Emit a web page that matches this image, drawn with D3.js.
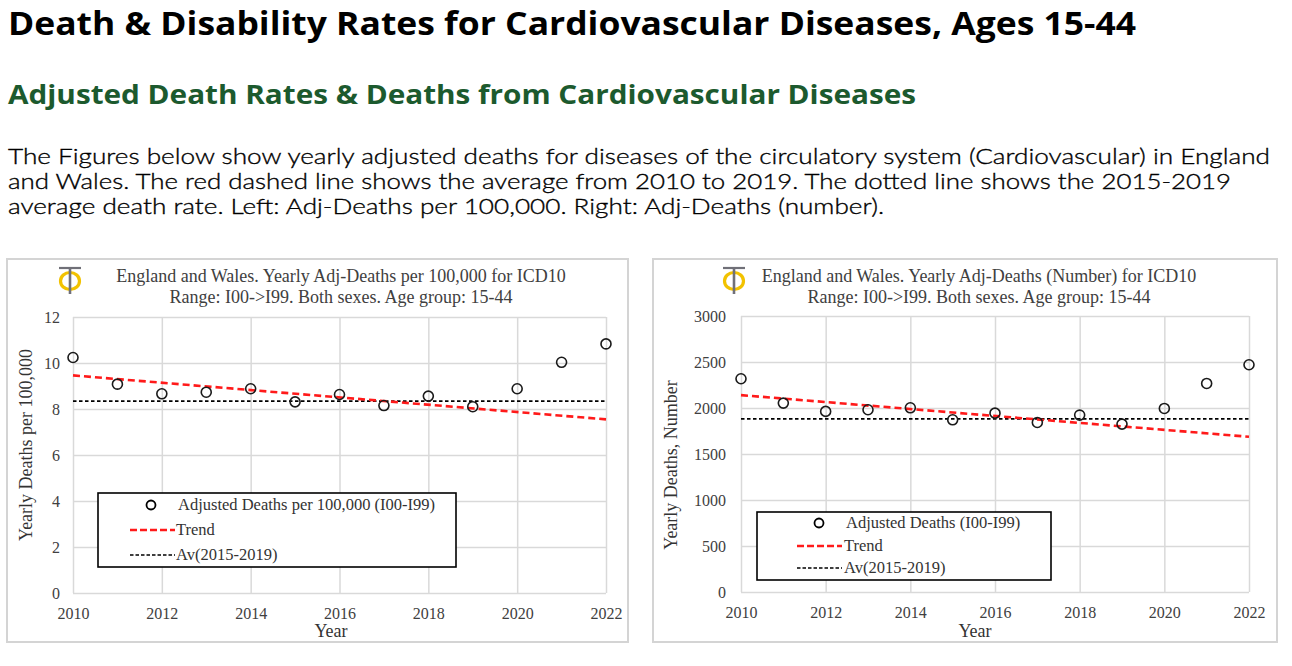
<!DOCTYPE html>
<html>
<head>
<meta charset="utf-8">
<script src="https://cdn.jsdelivr.net/npm/d3@7"></script>
<style>
  body { margin: 0; background: #fff; }
  svg { display: block; }
</style>
</head>
<body>
<div id="chart"></div>
<script>
// data
var years = [2010, 2011, 2012, 2013, 2014, 2015, 2016, 2017, 2018, 2019, 2020, 2021, 2022];
var ratePer100k = [10.24, 9.08, 8.66, 8.73, 8.88, 8.31, 8.63, 8.15, 8.56, 8.10, 8.88, 10.03, 10.83];
var deathsNumber = [2318, 2053, 1963, 1981, 2002, 1872, 1944, 1843, 1923, 1825, 1995, 2267, 2470];
var trendYears = [2010, 2022];
var trendRate = [9.46, 7.55];
var trendNumber = [2140, 1687];
var avRate = 8.34;
var avNumber = 1882;
var xTicks = [2010, 2012, 2014, 2016, 2018, 2020, 2022];
var rateTicks = [0, 2, 4, 6, 8, 10, 12];
var numberTicks = [0, 500, 1000, 1500, 2000, 2500, 3000];

var width = 1292, height = 666;
var serif = "'Liberation Serif', 'DejaVu Serif', serif";

var svg = d3.select('#chart')
  .append('svg')
  .attr('width', width)
  .attr('height', height);

// page header
svg.append('text')
  .attr('x', 8).attr('y', 35)
  .attr('textLength', 1128).attr('lengthAdjust', 'spacingAndGlyphs')
  .style('font-family', "'Open Sans', sans-serif")
  .style('font-weight', 700)
  .style('font-size', '32px')
  .style('fill', '#000')
  .text('Death & Disability Rates for Cardiovascular Diseases, Ages 15-44');

svg.append('text')
  .attr('x', 8).attr('y', 104)
  .attr('textLength', 908).attr('lengthAdjust', 'spacingAndGlyphs')
  .style('font-family', "'Open Sans', sans-serif")
  .style('font-weight', 700)
  .style('font-size', '27px')
  .style('fill', '#1c5a2e')
  .text('Adjusted Death Rates & Deaths from Cardiovascular Diseases');

var para = [
  {t: 'The Figures below show yearly adjusted deaths for diseases of the circulatory system (Cardiovascular) in England', w: 1262},
  {t: 'and Wales. The red dashed line shows the average from 2010 to 2019. The dotted line shows the 2015-2019', w: 1223},
  {t: 'average death rate. Left: Adj-Deaths per 100,000. Right: Adj-Deaths (number).', w: 876}
];
svg.selectAll('.para')
  .data(para)
  .enter()
  .append('text')
  .attr('class', 'para')
  .attr('x', 8)
  .attr('y', function(d, i){ return 164 + i * 25; })
  .attr('textLength', function(d){ return d.w; })
  .attr('lengthAdjust', 'spacingAndGlyphs')
  .style('font-family', "'Lato', sans-serif")
  .style('font-weight', 300)
  .style('font-size', '22px')
  .style('fill', '#000')
  .style('stroke', '#000')
  .style('stroke-width', 0.35)
  .text(function(d){ return d.t; });

function draw_chart(c){
  var g = svg.append('g');

  g.append('rect')
    .attr('x', c.frame[0]).attr('y', c.frame[1])
    .attr('width', c.frame[2]).attr('height', c.frame[3])
    .attr('fill', '#fff')
    .attr('stroke', '#d4d4d4')
    .attr('stroke-width', 2);

  var x = d3.scaleLinear().domain([2010, 2022]).range([c.x0, c.x1]);
  var y = d3.scaleLinear().domain([0, c.yTicks[c.yTicks.length - 1]]).range([c.y0, c.y1]);

  // gridlines + tick labels
  var xAxis = g.append('g')
    .attr('transform', 'translate(0,' + c.y0 + ')')
    .call(d3.axisBottom(x).tickValues(xTicks).tickFormat(d3.format('d'))
      .tickSize(-(c.y0 - c.y1)).tickPadding(15));
  var yAxis = g.append('g')
    .attr('transform', 'translate(' + c.x0 + ',0)')
    .call(d3.axisLeft(y).tickValues(c.yTicks).tickFormat(d3.format('d'))
      .tickSize(-(c.x1 - c.x0)).tickPadding(c.yPad));
  [xAxis, yAxis].forEach(function(a){
    a.select('.domain').remove();
    a.selectAll('line').attr('stroke', '#d9d9d9').attr('stroke-width', 1.5);
    a.selectAll('text')
      .style('font-family', serif)
      .style('font-size', '16px')
      .style('fill', '#404040');
  });

  // average line (dotted)
  g.append('line')
    .attr('x1', x(2010)).attr('x2', x(2022))
    .attr('y1', y(c.av)).attr('y2', y(c.av))
    .attr('stroke', '#000')
    .attr('stroke-width', 1.8)
    .attr('stroke-dasharray', '3.5,2.5');

  // trend (red dashed)
  g.append('line')
    .attr('x1', x(trendYears[0])).attr('x2', x(trendYears[1]))
    .attr('y1', y(c.trend[0])).attr('y2', y(c.trend[1]))
    .attr('stroke', '#ff1a1a')
    .attr('stroke-width', 2.6)
    .attr('stroke-dasharray', '7,4');

  g.selectAll('circle.pt')
    .data(years)
    .enter()
    .append('circle')
    .attr('class', 'pt')
    .attr('cx', function(d){ return x(d); })
    .attr('cy', function(d, i){ return y(c.values[i]); })
    .attr('r', 5)
    .attr('fill', 'none')
    .attr('stroke', '#1a1a1a')
    .attr('stroke-width', 1.6);

  // title
  g.selectAll('text.title')
    .data(c.title)
    .enter()
    .append('text')
    .attr('class', 'title')
    .attr('x', c.titleX)
    .attr('y', function(d, i){ return 282 + i * 21; })
    .attr('text-anchor', 'middle')
    .style('font-family', serif)
    .style('font-size', '18px')
    .style('fill', '#404040')
    .text(function(d){ return d; });

  // logo
  var lg = g.append('g').attr('transform', 'translate(' + c.logoX + ',281)');
  lg.append('ellipse')
    .attr('rx', 9.5).attr('ry', 8.5)
    .attr('fill', 'none')
    .attr('stroke', '#f2c200')
    .attr('stroke-width', 3.2);
  lg.append('line')
    .attr('x1', -11).attr('x2', 11).attr('y1', -13).attr('y2', -13)
    .attr('stroke', '#707078').attr('stroke-width', 2.2);
  lg.append('line')
    .attr('x1', 0).attr('x2', 0).attr('y1', -13).attr('y2', 13)
    .attr('stroke', '#707078').attr('stroke-width', 2.6);

  // axis titles
  g.append('text')
    .attr('x', c.xTitleX).attr('y', 637)
    .attr('text-anchor', 'middle')
    .style('font-family', serif)
    .style('font-size', '18px')
    .style('fill', '#333')
    .text('Year');
  g.append('text')
    .attr('transform', 'translate(' + c.yTitle[0] + ',' + c.yTitle[1] + ') rotate(-90)')
    .attr('text-anchor', 'middle')
    .style('font-family', serif)
    .style('font-size', '18px')
    .style('fill', '#333')
    .text(c.yLabel);

  // legend
  var L = c.legend;
  g.append('rect')
    .attr('x', L.x).attr('y', L.y)
    .attr('width', L.w).attr('height', L.h)
    .attr('fill', '#fff')
    .attr('stroke', '#000')
    .attr('stroke-width', 1.6);
  g.append('circle')
    .attr('cx', L.cx).attr('cy', L.rows[0])
    .attr('r', 4.5)
    .attr('fill', 'none')
    .attr('stroke', '#000')
    .attr('stroke-width', 1.8);
  g.append('line')
    .attr('x1', L.lx0).attr('x2', L.lx1)
    .attr('y1', L.rows[1]).attr('y2', L.rows[1])
    .attr('stroke', '#ff1a1a').attr('stroke-width', 2.6)
    .attr('stroke-dasharray', '7,3');
  g.append('line')
    .attr('x1', L.lx0).attr('x2', L.lx1)
    .attr('y1', L.rows[2]).attr('y2', L.rows[2])
    .attr('stroke', '#000').attr('stroke-width', 1.6)
    .attr('stroke-dasharray', '3.5,2');
  g.selectAll('text.leg')
    .data(c.legendLabels)
    .enter()
    .append('text')
    .attr('class', 'leg')
    .attr('x', function(d, i){ return i === 0 ? L.tx0 : L.tx; })
    .attr('y', function(d, i){ return L.rows[i] + 5; })
    .style('font-family', serif)
    .style('font-size', '16.5px')
    .style('fill', '#333')
    .text(function(d){ return d; });
}

draw_chart({
  frame: [7, 259, 621, 383],
  x0: 73, x1: 606, y0: 593, y1: 317,
  yTicks: rateTicks, yPad: 13,
  values: ratePer100k, trend: trendRate, av: avRate,
  title: ['England and Wales. Yearly Adj-Deaths per 100,000 for ICD10',
          'Range: I00->I99. Both sexes. Age group: 15-44'],
  titleX: 341, logoX: 70,
  xTitleX: 331, yTitle: [32, 445],
  yLabel: 'Yearly Deaths per 100,000',
  legend: {x: 98, y: 493, w: 358, h: 74, cx: 151, rows: [505, 530, 555],
           lx0: 130, lx1: 175, tx0: 178, tx: 176},
  legendLabels: ['Adjusted Deaths per 100,000 (I00-I99)', 'Trend', 'Av(2015-2019)']
});

draw_chart({
  frame: [653, 259, 624, 383],
  x0: 741, x1: 1249, y0: 592, y1: 316,
  yTicks: numberTicks, yPad: 15,
  values: deathsNumber, trend: trendNumber, av: avNumber,
  title: ['England and Wales. Yearly Adj-Deaths (Number) for ICD10',
          'Range: I00->I99. Both sexes. Age group: 15-44'],
  titleX: 979, logoX: 734,
  xTitleX: 975, yTitle: [677, 465],
  yLabel: 'Yearly Deaths, Number',
  legend: {x: 757, y: 512, w: 294, h: 68, cx: 819, rows: [523, 546, 568],
           lx0: 797, lx1: 842, tx0: 846, tx: 844},
  legendLabels: ['Adjusted Deaths (I00-I99)', 'Trend', 'Av(2015-2019)']
});
</script>
</body>
</html>
